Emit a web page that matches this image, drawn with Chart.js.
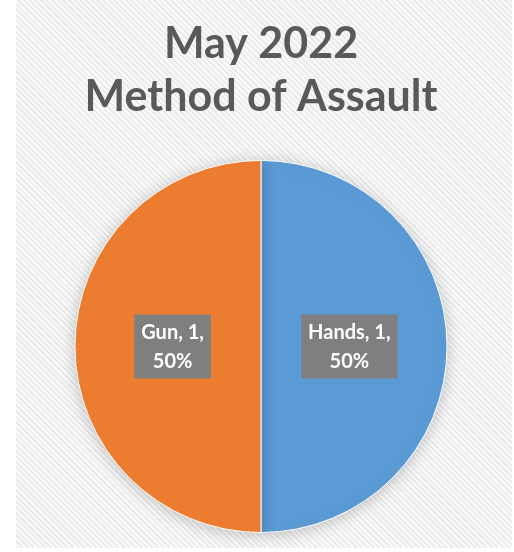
<!DOCTYPE html>
<html>
<head>
<meta charset="utf-8">
<script src="https://cdn.jsdelivr.net/npm/chart.js@4/dist/chart.umd.min.js"></script>
<style>
  html, body { margin: 0; padding: 0; background: #fff; }
  #wrap {
    position: absolute; left: 16px; top: 0; width: 496px; height: 548px;
    background: repeating-linear-gradient(45deg, #ebebeb 0px, #ebebeb 2px, #fafafa 2px, #fafafa 4px);
  }
</style>
</head>
<body>
<div id="wrap"><canvas id="pie"></canvas></div>
<script>
// datos del gráfico
const categories = ['Hands', 'Gun'];
const counts = [1, 1];
const sliceColors = ['#5B9BD5', '#ED7D31'];
const titleLines = ['May 2022', 'Method of Assault'];

const total = counts.reduce((a, b) => a + b, 0);

// sombra suave alrededor del pastel
const pieShadow = {
    id: 'pieShadow',
    beforeDatasetsDraw(chart) {
        const ctx = chart.ctx;
        ctx.save();
        ctx.shadowColor = 'rgba(0,0,0,0.22)';
        ctx.shadowBlur = 16;
        ctx.shadowOffsetY = 2;
    },
    afterDatasetsDraw(chart) {
        chart.ctx.restore();
    }
};

// etiquetas con caja gris
const boxLabels = {
    id: 'boxLabels',
    afterDraw(chart) {
        const ctx = chart.ctx;
        const meta = chart.getDatasetMeta(0);
        ctx.save();
        ctx.font = 'bold 20px Lato, "Open Sans", sans-serif';
        ctx.textAlign = 'center';
        ctx.textBaseline = 'middle';
        meta.data.forEach((arc, i) => {
            const p = arc.getProps(['x', 'y', 'startAngle', 'endAngle', 'outerRadius']);
            const mid = (p.startAngle + p.endAngle) / 2;
            const x = p.x + Math.cos(mid) * p.outerRadius * 0.475;
            const y = p.y + Math.sin(mid) * p.outerRadius * 0.475;
            const pct = Math.round(counts[i] / total * 100) + '%';
            const lines = [categories[i] + ', ' + counts[i] + ',', pct];
            const w = Math.max(...lines.map(l => ctx.measureText(l).width)) + 14;
            const h = 64;
            ctx.fillStyle = '#7F7F7F';
            ctx.fillRect(x - w / 2, y - h / 2, w, h);
            ctx.fillStyle = '#ffffff';
            ctx.fillText(lines[0], x, y - 14);
            ctx.fillText(lines[1], x, y + 15);
        });
        ctx.restore();
    }
};

new Chart(document.getElementById('pie'), {
    type: 'pie',
    data: {
        labels: categories,
        datasets: [{
            data: counts,
            backgroundColor: sliceColors,
            borderColor: '#ffffff',
            borderWidth: 1
        }]
    },
    options: {
        responsive: true,
        maintainAspectRatio: false,
        animation: false,
        layout: { padding: { top: 0, bottom: 15, left: 0, right: 6 } },
        plugins: {
            legend: { display: false },
            tooltip: { enabled: false },
            title: {
                display: true,
                text: titleLines,
                color: '#595959',
                font: { family: 'Lato, "Open Sans", sans-serif', size: 43, weight: 'bold', lineHeight: 1.22 },
                padding: { top: 18, bottom: 37 }
            }
        }
    },
    plugins: [pieShadow, boxLabels]
});
</script>
</body>
</html>
